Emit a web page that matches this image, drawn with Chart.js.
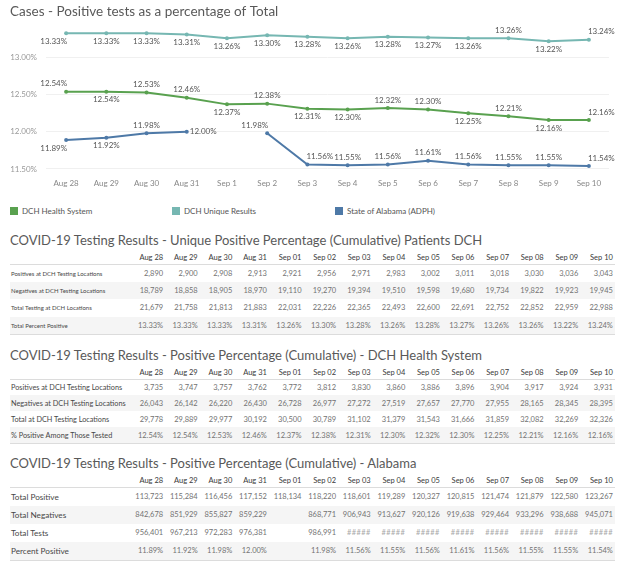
<!DOCTYPE html>
<html>
<head>
<meta charset="utf-8">
<script src="https://cdn.jsdelivr.net/npm/chart.js@4.4.0/dist/chart.umd.min.js"></script>
<style>
    body { margin: 0; width: 624px; height: 562px; background: #fff; font-family: Lato, sans-serif; overflow: hidden; position: relative; }
    #chart-box { position: absolute; left: 0; top: 0; width: 624px; height: 200px; }
    .legend-item { position: absolute; top: 206px; font-size: 8px; color: #555; height: 10px; line-height: 10px; white-space: nowrap; }
    .legend-item .sw { position: absolute; left: 0; top: 1px; width: 8px; height: 8px; }
    .legend-item .txt { position: absolute; left: 12px; top: 0; }
    .block-title { position: absolute; left: 10px; font-size: 13px; line-height: 16px; color: #595959; white-space: nowrap; }
    table { position: absolute; left: 10px; border-collapse: collapse; table-layout: fixed; width: 605.4px; }
    td { padding: 0 2.5px 0 0; text-align: right; white-space: nowrap; vertical-align: middle; color: #727272; font-size: 7.5px; overflow: visible; }
    td.lab { text-align: left; color: #474747; padding-left: 1px; }
    tr.head td { color: #3a3a3a; border-bottom: 1px solid #dcdcdc; }
    tr.shade td { background: #f5f5f5; }
    tr.last td { border-bottom: 1px solid #dcdcdc; }
    td.over { color: #aaa; letter-spacing: 0.4px; }
    #t1 { top: 251px; } #t1 tr.head td { height: 13px; } #t1 tr.row td { height: 17.2px; } #t1 td.lab { font-size: 6px; }
    #t2 { top: 366px; } #t2 tr.head td { height: 12.5px; } #t2 tr.row td { height: 15.9px; } #t2 td.lab { font-size: 7.3px; }
    #t3 { top: 474px; } #t3 tr.head td { height: 12.5px; } #t3 tr.row td { height: 18px; } #t3 td.lab { font-size: 8.2px; }
</style>
</head>
<body>
<div id="chart-box"><canvas id="trendChart"></canvas></div>

<div class="legend-item" style="left:10px"><span class="sw" style="background:#59a14f"></span><span class="txt">DCH Health System</span></div>
<div class="legend-item" style="left:172px"><span class="sw" style="background:#76b7b2"></span><span class="txt">DCH Unique Results</span></div>
<div class="legend-item" style="left:335px"><span class="sw" style="background:#4e79a7"></span><span class="txt">State of Alabama (ADPH)</span></div>

<div class="block-title" style="top:232px">COVID-19 Testing Results - Unique Positive Percentage (Cumulative) Patients DCH</div>
<table id="t1"></table>
<div class="block-title" style="top:347px">COVID-19 Testing Results - Positive Percentage (Cumulative) - DCH Health System</div>
<table id="t2"></table>
<div class="block-title" style="top:455px">COVID-19 Testing Results - Positive Percentage (Cumulative) - Alabama</div>
<table id="t3"></table>

<script>
const chartTitle = 'Cases - Positive tests as a percentage of Total';
const days = ['Aug 28', 'Aug 29', 'Aug 30', 'Aug 31', 'Sep 1', 'Sep 2', 'Sep 3', 'Sep 4', 'Sep 5', 'Sep 6', 'Sep 7', 'Sep 8', 'Sep 9', 'Sep 10'];
const tableDays = ['Aug 28', 'Aug 29', 'Aug 30', 'Aug 31', 'Sep 01', 'Sep 02', 'Sep 03', 'Sep 04', 'Sep 05', 'Sep 06', 'Sep 07', 'Sep 08', 'Sep 09', 'Sep 10'];
const yTicks = [11.5, 12.0, 12.5, 13.0];

// percent positive series (also the last row of each table)
const dchHealthPct = [12.54, 12.54, 12.53, 12.46, 12.37, 12.38, 12.31, 12.30, 12.32, 12.30, 12.25, 12.21, 12.16, 12.16];
const dchUniquePct = [13.33, 13.33, 13.33, 13.31, 13.26, 13.30, 13.28, 13.26, 13.28, 13.27, 13.26, 13.26, 13.22, 13.24];
const alabamaPct = [11.89, 11.92, 11.98, 12.00, null, 11.98, 11.56, 11.55, 11.56, 11.61, 11.56, 11.55, 11.55, 11.54];

// DCH unique patients
const uniquePositives = [2890, 2900, 2908, 2913, 2921, 2956, 2971, 2983, 3002, 3011, 3018, 3030, 3036, 3043];
const uniqueNegatives = [18789, 18858, 18905, 18970, 19110, 19270, 19394, 19510, 19598, 19680, 19734, 19822, 19923, 19945];
const uniqueTotal = [21679, 21758, 21813, 21883, 22031, 22226, 22365, 22493, 22600, 22691, 22752, 22852, 22959, 22988];

// DCH health system
const healthPositives = [3735, 3747, 3757, 3762, 3772, 3812, 3830, 3860, 3886, 3896, 3904, 3917, 3924, 3931];
const healthNegatives = [26043, 26142, 26220, 26430, 26728, 26977, 27272, 27519, 27657, 27770, 27955, 28165, 28345, 28395];
const healthTotal = [29778, 29889, 29977, 30192, 30500, 30789, 31102, 31379, 31543, 31666, 31859, 32082, 32269, 32326];

// Alabama (##### = column too narrow in the source)
const alPositives = [113723, 115284, 116456, 117152, 118134, 118220, 118601, 119289, 120327, 120815, 121474, 121879, 122580, 123267];
const alNegatives = [842678, 851929, 855827, 859229, null, 868771, 906943, 913627, 920126, 919638, 929464, 933296, 938688, 945071];
const alTests = [956401, 967213, 972283, 976381, null, 986991, '#####', '#####', '#####', '#####', '#####', '#####', '#####', '#####'];

// where each point label sits: a=above, b=below, l/r = pushed left/right of the point
const labelPlaces = [
    ['al', 'b', 'a', 'a', 'b', 'a', 'b', 'b', 'a', 'a', 'b', 'a', 'b', 'ar'],
    ['bl', 'b', 'b', 'b', 'b', 'b', 'b', 'b', 'b', 'b', 'b', 'a', 'b', 'ar'],
    ['bl', 'b', 'a', 'r', '', 'al', 'ar', 'a', 'a', 'a', 'a', 'a', 'a', 'ar']
];

const pointLabels = {
    id: 'pointLabels',
    afterDatasetsDraw(chart) {
        const ctx = chart.ctx;
        ctx.save();
        ctx.font = '8px Lato';
        ctx.fillStyle = '#555';
        ctx.textBaseline = 'middle';
        chart.data.datasets.forEach((ds, di) => {
            chart.getDatasetMeta(di).data.forEach((pt, i) => {
                const v = ds.data[i];
                if (v == null) return;
                const where = labelPlaces[di][i];
                let x = pt.x, y = pt.y, align = 'center';
                if (where[0] === 'a') y -= 8;
                if (where[0] === 'b') y += 8;
                if (where === 'r') { x += 3; align = 'left'; }
                else if (where[1] === 'l') { x += 1; align = 'right'; }
                else if (where[1] === 'r') { x -= 1; align = 'left'; }
                ctx.textAlign = align;
                ctx.fillText(v.toFixed(2) + '%', x, y);
            });
        });
        ctx.restore();
    }
};

function lineSet(label, data, color) {
    return {
        label: label,
        data: data,
        borderColor: color,
        backgroundColor: color,
        borderWidth: 2,
        pointRadius: 2,
        pointBorderWidth: 0,
        tension: 0,
        spanGaps: false
    };
}

new Chart(document.getElementById('trendChart'), {
    type: 'line',
    data: {
        labels: days,
        datasets: [
            lineSet('DCH Health System', dchHealthPct, '#59a14f'),
            lineSet('DCH Unique Results', dchUniquePct, '#76b7b2'),
            lineSet('State of Alabama (ADPH)', alabamaPct, '#4e79a7')
        ]
    },
    options: {
        responsive: true,
        maintainAspectRatio: false,
        animation: false,
        layout: { padding: { left: 10, right: 15, top: 0, bottom: 4.5 } },
        plugins: {
            legend: { display: false },
            tooltip: { enabled: false },
            title: {
                display: true,
                text: chartTitle,
                align: 'start',
                color: '#595959',
                font: { family: 'Lato', size: 13.5, weight: 'normal' },
                padding: { top: 4, bottom: 1.8 }
            }
        },
        scales: {
            x: {
                offset: true,
                grid: { display: false, drawTicks: false },
                border: { display: false },
                ticks: { color: '#888', font: { family: 'Lato', size: 8 }, padding: 7, maxRotation: 0, autoSkip: false }
            },
            y: {
                min: 11.46,
                max: 13.48,
                afterBuildTicks: axis => { axis.ticks = yTicks.map(v => ({ value: v })); },
                afterFit: axis => { axis.width = 36; },
                grid: { color: '#f0f0f0', drawTicks: false },
                border: { display: false },
                ticks: { color: '#999', font: { family: 'Lato', size: 8 }, padding: 9, callback: v => v.toFixed(2) + '%' }
            }
        }
    },
    plugins: [pointLabels]
});

// Tables
function fmtCell(v, pct) {
    if (v == null) return '';
    if (typeof v === 'string') return v;
    return pct ? v.toFixed(2) + '%' : v.toLocaleString('en-US');
}

function buildTable(id, rows) {
    const table = document.getElementById(id);
    let html = '<colgroup><col style="width:121px">' + tableDays.map(() => '<col style="width:34.6px">').join('') + '</colgroup>';
    html += '<tr class="head"><td class="lab"></td>' + tableDays.map(d => `<td>${d}</td>`).join('') + '</tr>';
    rows.forEach((row, r) => {
        const cls = ['row'];
        if (r % 2 === 1) cls.push('shade');
        if (r === rows.length - 1) cls.push('last');
        html += `<tr class="${cls.join(' ')}"><td class="lab">${row.label}</td>` +
            row.values.map(v => `<td${typeof v === 'string' ? ' class="over"' : ''}>${fmtCell(v, row.pct)}</td>`).join('') + '</tr>';
    });
    table.innerHTML = html;
}

buildTable('t1', [
    { label: 'Positives at DCH Testing Locations', values: uniquePositives },
    { label: 'Negatives at DCH Testing Locations', values: uniqueNegatives },
    { label: 'Total Testing at DCH Locations', values: uniqueTotal },
    { label: 'Total Percent Positive', values: dchUniquePct, pct: true }
]);

buildTable('t2', [
    { label: 'Positives at DCH Testing Locations', values: healthPositives },
    { label: 'Negatives at DCH Testing Locations', values: healthNegatives },
    { label: 'Total at DCH Testing Locations', values: healthTotal },
    { label: '% Positive Among Those Tested', values: dchHealthPct, pct: true }
]);

buildTable('t3', [
    { label: 'Total Positive', values: alPositives },
    { label: 'Total Negatives', values: alNegatives },
    { label: 'Total Tests', values: alTests },
    { label: 'Percent Positive', values: alabamaPct, pct: true }
]);
</script>
</body>
</html>
